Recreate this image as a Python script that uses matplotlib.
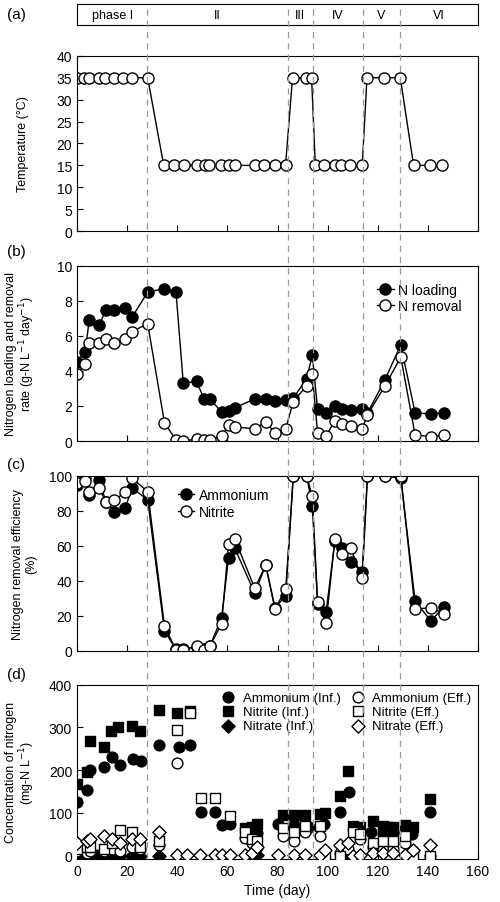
import matplotlib
matplotlib.use("Agg")
import matplotlib.pyplot as plt
from matplotlib.lines import Line2D

# phase boundaries (day) and labels
phase_edges = [0, 28, 84, 94, 114, 129, 160]
phase_labels = ['phase I', 'II', 'III', 'IV', 'V', 'VI']

# (a) temperature
t_days = [0, 2.7, 4.9, 8.8, 11.3, 14.7, 18.4, 21.8, 28.2,
          34.6, 38.7, 42.8, 47.7, 50.9, 52.7, 57.4, 60.5, 62.9, 70.9, 74.7, 79.1, 83.2,
          86, 91.5, 93.6,
          95.1, 98.7, 102.9, 105.5, 108.8, 113.8,
          115.7, 122.6, 129,
          134.3, 140.7, 145.7]
temp = [35] * 9 + [15] * 13 + [35] * 3 + [15] * 6 + [35] * 3 + [15] * 3

# (b), (c) common sampling days
days = [0, 3.2, 4.9, 8.8, 11.6, 14.8, 19.1, 22.1, 28.2,
        34.9, 39.5, 42.4, 47.7, 50.7, 53.1, 57.7, 60.5, 63.0,
        70.9, 75.3, 79.0, 83.3, 86.3, 91.6, 93.9,
        96.0, 99.4, 102.9, 105.9, 109.2, 113.8,
        115.9, 122.9, 129.2, 134.9, 141.2, 146.3]
n_loading = [4.5, 5.1, 6.9, 6.6, 7.5, 7.5, 7.6, 7.1, 8.5,
             8.7, 8.5, 3.3, 3.4, 2.4, 2.4, 1.65, 1.7, 1.9,
             2.4, 2.4, 2.3, 2.35, 2.45, 3.55, 4.9,
             1.8, 1.6, 2.0, 1.85, 1.75, 1.8,
             1.6, 3.5, 5.5, 1.6, 1.55, 1.6]
n_removal = [3.85, 4.4, 5.6, 5.6, 5.8, 5.6, 5.85, 6.25, 6.7,
             1.05, 0.05, 0.02, 0.1, 0.05, 0.08, 0.3, 0.9, 0.8,
             0.7, 1.1, 0.45, 0.7, 2.25, 3.15, 3.8,
             0.45, 0.3, 1.15, 0.95, 0.85, 0.7,
             1.5, 3.15, 4.8, 0.35, 0.25, 0.35]
eff_ammonium = [94.7, 98.7, 89, 97.7, 85, 79.4, 81.5, 92.8, 86.3,
                11.4, 1, 1, 2.5, 1, 3, 19, 53.3, 58.5,
                33, 49, 24.8, 31.4, 100, 100, 83,
                26.7, 22.3, 62.9, 58.7, 50.9, 45,
                100, 100, 98.5, 28.6, 17.1, 25.1]
eff_nitrite = [95.6, 96.8, 90.9, 93, 84.8, 86, 90.5, 98.5, 90.9,
               14.3, 0.5, 0.5, 2.9, 0.4, 2.9, 15.6, 61.3, 63.8,
               35.8, 49, 23.8, 35.6, 100, 100, 88.2,
               28.2, 16.2, 63.8, 55.6, 58.5, 41.5,
               100, 100, 100, 23.8, 24.8, 21.3]

# (d) concentrations (day, mg-N/L)
amm_inf_d = [0, 4, 5, 10.6, 14, 17, 22.5, 25.7, 32.6, 40.6, 45.2, 49.3, 55, 57.7, 60.9,
             68.7, 70.5, 72, 80, 86.5, 92.5, 97, 98.5, 105, 108.5, 117.5, 122, 124, 126, 131, 133.5, 141]
amm_inf_v = [126, 153, 200, 207, 232, 213, 226, 221, 258, 254, 258, 101, 101, 72, 73,
             52, 52, 52, 73, 71, 67, 68, 73, 101, 148, 55, 50, 55, 52, 55, 50, 103]
nit_inf_d = [0, 4, 5, 10.6, 13.5, 16.5, 22, 25, 32.6, 40, 45, 67, 70, 72, 82, 86.5, 91, 97, 99,
             105, 108, 110, 113, 118, 122, 124, 126, 131, 134, 141]
nit_inf_v = [168, 195, 268, 255, 292, 302, 304, 292, 342, 335, 338, 65, 68, 75, 95, 95, 95, 97, 99,
             140, 198, 70, 68, 82, 70, 68, 68, 72, 68, 133]
nat_inf_d = [0, 4, 5, 8, 10.6, 13.6, 17, 22, 25, 32.6, 71, 72, 107]
nat_inf_v = [0, 0, 0, 0, 0, 0, 0, 0, 0, 0, 2, 2, 0]
amm_eff_d = [0, 4, 5, 10.6, 14, 17, 22, 25, 32.6, 40, 67, 70, 72, 82, 86.5, 91, 97,
             105, 108, 113, 118, 122, 126, 131, 134, 141]
amm_eff_v = [10, 5, 10, 10, 15, 10, 20, 15, 25, 217, 42, 30, 20, 45, 35, 55, 45,
             5, 15, 40, 20, 15, 15, 30, 10, 0]
nit_eff_d = [0, 4, 5, 10.6, 14, 17, 22, 25, 32.6, 40, 45, 49.3, 55, 60.9, 67, 70, 72, 82, 86.5,
             91, 97, 99, 105, 110, 113, 118, 122, 126, 131, 134, 141]
nit_eff_v = [15, 20, 20, 15, 30, 60, 55, 20, 35, 295, 335, 135, 135, 92, 55, 40, 35, 65, 55,
             70, 70, 0, 0, 55, 50, 30, 35, 35, 45, 0, 0]
nat_eff_d = [0, 4, 5, 10.6, 14, 17, 22, 25, 32.6, 40, 44, 49, 55, 57.7, 61, 67, 70, 72, 80,
             86.5, 91, 97, 99, 105, 108, 110, 113, 118, 122, 126, 131, 134, 141]
nat_eff_v = [30, 35, 40, 45, 40, 30, 40, 40, 55, 2, 2, 2, 2, 2, 2, 2, 5, 20, 2,
             2, 2, 2, 12, 25, 30, 0, 2, 5, 5, 5, 2, 12, 25]

plt.rcParams['font.family'] = ['Liberation Sans', 'DejaVu Sans']
plt.rcParams['font.size'] = 10

fig = plt.figure(figsize=(5, 9.03), dpi=100)
L, W = 0.154, 0.802
H = 0.194
ax_box = fig.add_axes([L, 0.971, W, 0.023])
ax_a = fig.add_axes([L, 0.743, W, H])
ax_b = fig.add_axes([L, 0.5105, W, H])
ax_c = fig.add_axes([L, 0.278, W, H])
ax_d = fig.add_axes([L, 0.0476, W, 0.193])

ax_box.set_xlim(0, 160)
ax_box.set_ylim(0, 1)
ax_box.set_xticks([])
ax_box.set_yticks([])
for i, lab in enumerate(phase_labels):
    ax_box.text((phase_edges[i] + phase_edges[i + 1]) / 2, 0.5, lab,
                ha='center', va='center', fontsize=9)

# dashed phase boundaries across the whole figure
for e in phase_edges[1:-1]:
    fx = L + W * e / 160
    fig.lines.append(Line2D([fx, fx], [0.0476, 0.994], transform=fig.transFigure,
                            color='#999999', linestyle=(0, (5, 4)), linewidth=0.9, zorder=0))

ms = 8
ax_a.plot(t_days, temp, '-o', color='black', mfc='white', mec='black', ms=ms, lw=1)
ax_a.set_ylim(0, 40)
ax_a.set_yticks(range(0, 41, 5))
ax_a.set_ylabel('Temperature (°C)')

ax_b.plot(days, n_loading, '-o', color='black', mfc='black', ms=ms, lw=1, label='N loading')
ax_b.plot(days, n_removal, '-o', color='black', mfc='white', ms=ms, lw=1, label='N removal')
ax_b.set_ylim(0, 10)
ax_b.set_yticks(range(0, 11, 2))
ax_b.set_ylabel('Nitrogen loading and removal\nrate (g-N L$^{-1}$ day$^{-1}$)')
ax_b.legend(loc='upper right', frameon=False, handlelength=1.2, handletextpad=0.3,
            labelspacing=0.2, borderaxespad=0.8)

ax_c.plot(days, eff_ammonium, '-o', color='black', mfc='black', ms=ms, lw=1, label='Ammonium')
ax_c.plot(days, eff_nitrite, '-o', color='black', mfc='white', ms=ms, lw=1, label='Nitrite')
ax_c.set_ylim(0, 100)
ax_c.set_yticks(range(0, 101, 20))
ax_c.set_ylabel('Nitrogen removal efficiency\n(%)')
ax_c.legend(loc='upper left', bbox_to_anchor=(0.22, 1.0), frameon=False, handlelength=1.2,
            handletextpad=0.3, labelspacing=0.2)

kw = dict(color='black', s=60, linewidths=1, zorder=3)
ax_d.scatter(amm_inf_d, amm_inf_v, marker='o', label='Ammonium (Inf.)', **kw)
ax_d.scatter(nit_inf_d, nit_inf_v, marker='s', label='Nitrite (Inf.)', **kw)
ax_d.scatter(nat_inf_d, nat_inf_v, marker='D', label='Nitrate (Inf.)', **dict(kw, s=45))
kw2 = dict(facecolors='white', edgecolors='black', s=60, linewidths=1, zorder=3)
ax_d.scatter(amm_eff_d, amm_eff_v, marker='o', label='Ammonium (Eff.)', **kw2)
ax_d.scatter(nit_eff_d, nit_eff_v, marker='s', label='Nitrite (Eff.)', **kw2)
ax_d.scatter(nat_eff_d, nat_eff_v, marker='D', label='Nitrate (Eff.)', **dict(kw2, s=45))
ax_d.set_ylim(-8, 400)
ax_d.set_yticks(range(0, 401, 100))
ax_d.set_ylabel('Concentration of nitrogen\n(mg-N L$^{-1}$)')
ax_d.set_xlabel('Time (day)')
ax_d.legend(loc='upper right', ncol=2, frameon=False, handletextpad=0.1, columnspacing=0.3,
            labelspacing=0.15, borderaxespad=0.1, fontsize=9.5)

for ax in (ax_a, ax_b, ax_c, ax_d):
    ax.set_xlim(0, 160)
    ax.set_xticks(range(0, 161, 20))
    ax.tick_params(direction='in', length=4)
    ax.yaxis.label.set_size(9)
    ax.yaxis.label.set_linespacing(1.05)
    ax.yaxis.set_label_coords(-0.1, 0.5)
for ax in (ax_a, ax_b, ax_c):
    ax.set_xticklabels([])
ax_a.yaxis.set_label_coords(-0.12, 0.5)

for lab, y in (('(a)', 0.983), ('(b)', 0.721), ('(c)', 0.485), ('(d)', 0.252)):
    fig.text(0.015, y, lab, fontsize=11, va='center')

fig.savefig('out.png', dpi=100)
